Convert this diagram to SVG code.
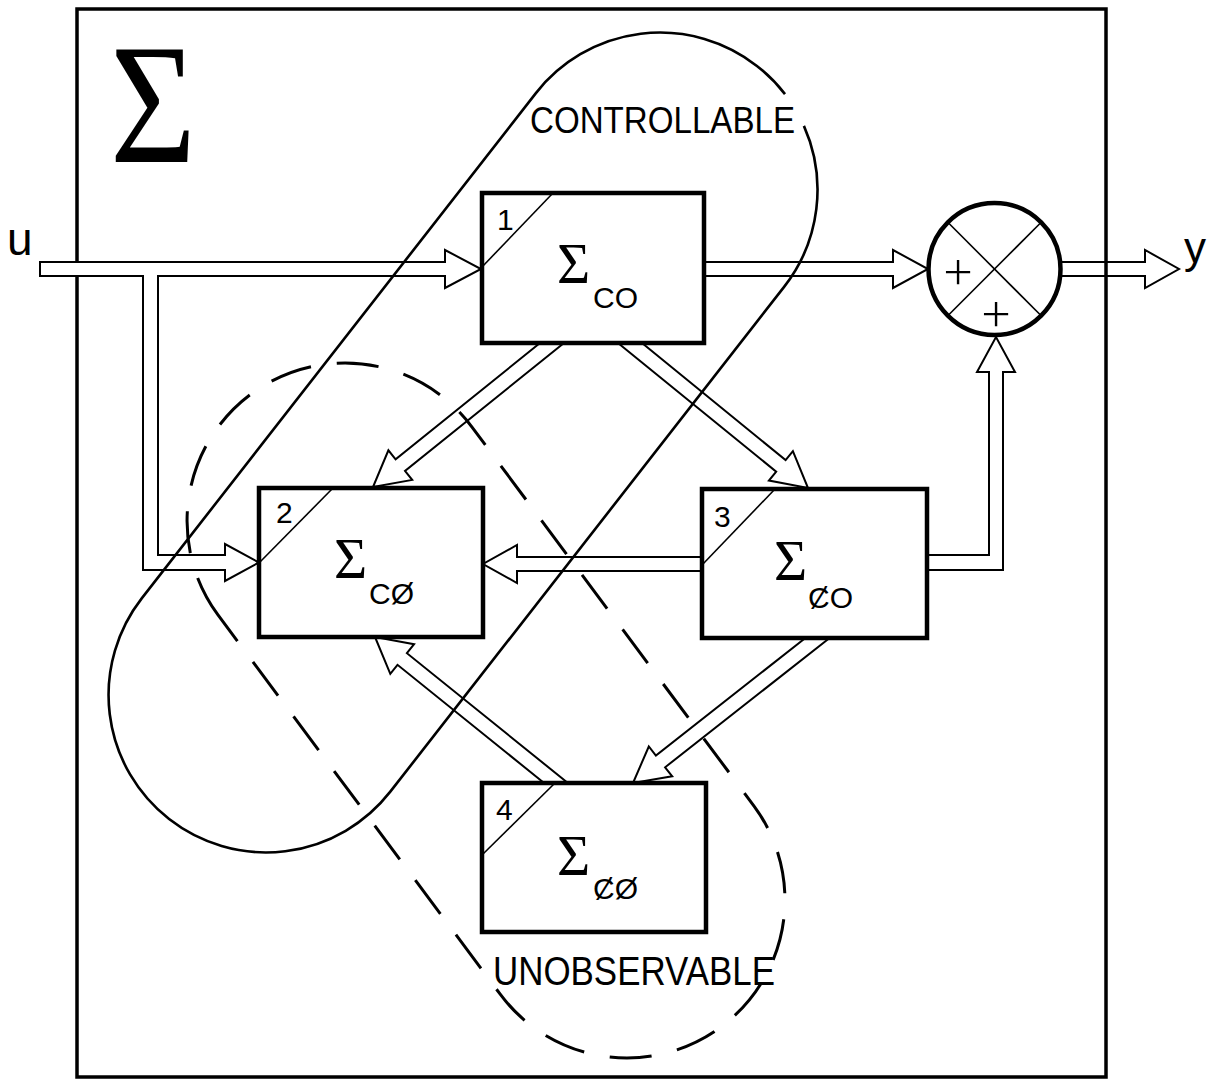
<svg xmlns="http://www.w3.org/2000/svg" width="1207" height="1080" viewBox="0 0 1207 1080">
<style>
.frame{fill:#fff;stroke:#000;stroke-width:3.5}
.box{fill:#fff;stroke:#000;stroke-width:4.5}
.diag{stroke:#000;stroke-width:1.6;fill:none}
.arr{fill:#fff;stroke:#000;stroke-width:2;stroke-linejoin:miter}
.open{fill:none}
.ctrl{fill:none;stroke:#000;stroke-width:2.6}
.unobs{fill:none;stroke:#000;stroke-width:3;stroke-dasharray:42 26}
.num{font-family:"Liberation Sans",Arial,sans-serif;font-size:30px}
.sig{font-family:"Liberation Serif","DejaVu Serif",serif;font-size:57px}
.bigsig{font-family:"Liberation Serif","DejaVu Serif",serif;font-size:172px}
.sub{font-family:"Liberation Sans","DejaVu Sans",sans-serif;font-size:30px}
.lbl{font-family:"Liberation Sans",Arial,sans-serif}
.plus{font-family:"Inter","DejaVu Sans",sans-serif;font-weight:200;font-size:56px}
</style>

<rect class="frame" x="77" y="9" width="1029" height="1068"/>
<text class="bigsig" x="110" y="162" textLength="86" lengthAdjust="spacingAndGlyphs">Σ</text>

<g id="connectors">
  <path class="arr" d="M40,262 H445 V250 L481,269 L445,288 V276 H158 V555 H225 V544 L259,562.5 L225,581 V570 H143 V276 H40 Z"/>
  <path class="arr" d="M704,262 H893 V250 L928,269 L893,288 V276 H704"/>
  <path class="arr open" d="M1060,262 H1145 V250 L1179,269 L1145,288 V276 H1060"/>
  <path class="arr" d="M927,555 H989 V372 H977 L996,337 L1015,372 H1003 V570 H927"/>
  <path class="arr" d="M702,557 H517 V545 L483,564 L517,583 V571 H702"/>
  <path class="arr" d="M540,343 L395.6,459.3 L388.4,450.3 L373,487 L412.2,479.9 L405,470.9 L564,343"/>
  <path class="arr" d="M618,343 L776.2,471.7 L768.9,480.6 L808,488 L792.9,451.2 L785.6,460.1 L642,343"/>
  <path class="arr" d="M805.4,638 L655.9,755.5 L648.8,746.5 L633,783 L672.2,776.3 L665.1,767.3 L829.6,638"/>
  <path class="arr" d="M544.1,783 L397.5,664.8 L390.3,673.8 L375,637 L414.1,644.2 L406.9,653.2 L567.9,783"/>
</g>

<g id="block1">
  <rect class="box" x="482" y="193" width="222" height="150"/>
  <line class="diag" x1="482" y1="267" x2="553" y2="193"/>
  <text class="num" x="497" y="230">1</text>
  <text class="sig" x="557" y="283">Σ</text>
  <text class="sub" x="593" y="308">CO</text>
</g>
<g id="block2">
  <rect class="box" x="259" y="488" width="224" height="149"/>
  <line class="diag" x1="259" y1="563" x2="333" y2="488"/>
  <text class="num" x="276" y="523">2</text>
  <text class="sig" x="334" y="578">Σ</text>
  <text class="sub" x="369" y="604">CØ</text>
</g>
<g id="block3">
  <rect class="box" x="702" y="489" width="225" height="149"/>
  <line class="diag" x1="702" y1="565" x2="775" y2="489"/>
  <text class="num" x="714" y="527">3</text>
  <text class="sig" x="774" y="580">Σ</text>
  <text class="sub" x="808" y="608">ȻO</text>
</g>
<g id="block4">
  <rect class="box" x="482" y="783" width="224" height="149"/>
  <line class="diag" x1="482" y1="855" x2="555" y2="783"/>
  <text class="num" x="496" y="820">4</text>
  <text class="sig" x="557" y="875">Σ</text>
  <text class="sub" x="593" y="899">ȻØ</text>
</g>
<g id="sum">
  <circle class="box" cx="994.5" cy="269" r="66"/>
  <line class="diag" x1="947.8" y1="222.3" x2="1041.2" y2="315.7"/>
  <line class="diag" x1="1041.2" y1="222.3" x2="947.8" y2="315.7"/>
  <text class="plus" x="958" y="288" text-anchor="middle">+</text>
  <text class="plus" x="996" y="330" text-anchor="middle">+</text>
</g>

<g id="controllable">
  <path class="ctrl" d="M803.9,125.9 A157.5,157.5 0 0 1 784.1,286.9 L390.1,791.9 A157.5,157.5 0 0 1 169.1,819.1 A157.5,157.5 0 0 1 141.9,598.1 L535.9,93.1 A157.5,157.5 0 0 1 756.9,65.9 A157.5,157.5 0 0 1 785,94.1"/>
  <text class="lbl" x="530" y="133" font-size="36" textLength="265" lengthAdjust="spacingAndGlyphs">CONTROLLABLE</text>
</g>
<g id="unobservable">
  <path class="unobs" d="M217.8,614.7 A158,158 0 0 1 250.7,394.3 A158,158 0 0 1 472.2,427.3 L754.2,806.3 A158,158 0 0 1 721.3,1026.7 A158,158 0 0 1 499.8,993.7 Z"/>
  <text class="lbl" x="493" y="985" font-size="41" textLength="282" lengthAdjust="spacingAndGlyphs">UNOBSERVABLE</text>
</g>

<text class="lbl" x="7" y="255" font-size="46">u</text>
<text class="lbl" x="1184" y="263" font-size="44">y</text>
</svg>
